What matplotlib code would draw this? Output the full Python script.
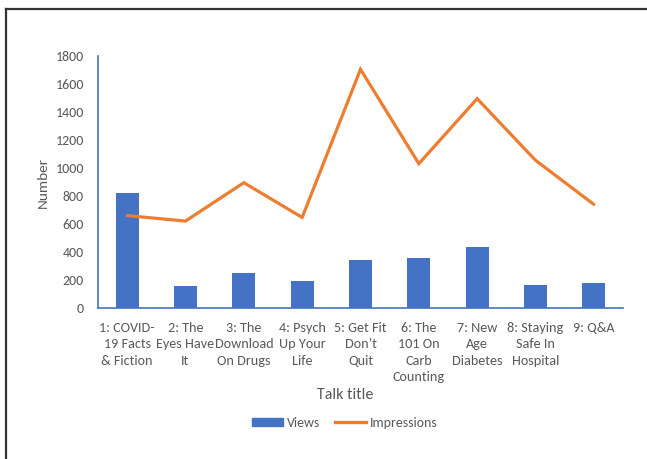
import matplotlib
matplotlib.use("Agg")
import matplotlib.pyplot as plt
from matplotlib import font_manager
from matplotlib.lines import Line2D
from matplotlib.patches import Patch

# Talk data
talks = [
    "1: COVID-\n19 Facts\n& Fiction",
    "2: The\nEyes Have\nIt",
    "3: The\nDownload\nOn Drugs",
    "4: Psych\nUp Your\nLife",
    "5: Get Fit\nDon\u2019t\nQuit",
    "6: The\n101 On\nCarb\nCounting",
    "7: New\nAge\nDiabetes",
    "8: Staying\nSafe In\nHospital",
    "9: Q&A",
]
views = [819, 159, 248, 192, 344, 355, 438, 164, 181]
impressions = [660, 621, 895, 647, 1705, 1031, 1495, 1055, 740]
y_ticks = [0, 200, 400, 600, 800, 1000, 1200, 1400, 1600, 1800]

available = {f.name for f in font_manager.fontManager.ttflist}
family = next((f for f in ["Carlito", "Lato", "Open Sans", "DejaVu Sans"] if f in available), "DejaVu Sans")
plt.rcParams["font.family"] = [family, "DejaVu Sans"]

BLUE = "#4472C4"
ORANGE = "#ED7D31"
TEXT = "#595959"

W, H = 647, 459
fig = plt.figure(figsize=(W / 100, H / 100), dpi=100)
fig.patch.set_facecolor("white")

def fx(px):
    return px / W

def fy(py):
    return 1 - py / H

ax = fig.add_axes([fx(98), fy(308), fx(623) - fx(98), fy(56) - fy(308)])

x = list(range(len(talks)))
ax.bar(x, views, width=0.39, color=BLUE, zorder=2, label="Views")
ax.plot(x, impressions, color=ORANGE, lw=2.3, solid_capstyle="round",
        solid_joinstyle="miter", zorder=3, label="Impressions")

ax.set_xlim(-0.5, len(talks) - 0.5)
ax.set_ylim(0, 1800)
ax.set_yticks(y_ticks)
ax.set_yticklabels([str(v) for v in y_ticks], fontsize=10, color=TEXT)
ax.set_xticks(x)
ax.set_xticklabels(talks, fontsize=10.2, color=TEXT, linespacing=1.45, va="top")
ax.tick_params(axis="both", length=0)
ax.tick_params(axis="y", pad=10)
ax.tick_params(axis="x", pad=10)

for side in ["top", "right"]:
    ax.spines[side].set_visible(False)
for side in ["left", "bottom"]:
    ax.spines[side].set_color(BLUE)
    ax.spines[side].set_linewidth(1.2)

fig.text(fx(43), fy(182), "Number", rotation=90, ha="center", va="center",
         fontsize=11, color=TEXT)
fig.text(fx(345), fy(395), "Talk title", ha="center", va="center",
         fontsize=11.5, color=TEXT)

handles = [Patch(facecolor=BLUE, edgecolor=BLUE),
           Line2D([0], [0], color=ORANGE, lw=2.4)]
leg = fig.legend(handles, ["Views", "Impressions"], loc="center",
                 bbox_to_anchor=(fx(345), fy(423)), ncol=2, frameon=False,
                 fontsize=10, handlelength=2.2, handleheight=0.55,
                 handletextpad=0.3, columnspacing=1.1, labelcolor=TEXT)

# outer frame
fig.add_artist(Line2D([fx(6), fx(6)], [fy(9), 0], color="#333333", lw=1.6,
                      transform=fig.transFigure))
fig.add_artist(Line2D([fx(6), 1], [fy(9), fy(9)], color="#333333", lw=1.6,
                      transform=fig.transFigure))

fig.savefig("out.png", dpi=100, facecolor="white")
